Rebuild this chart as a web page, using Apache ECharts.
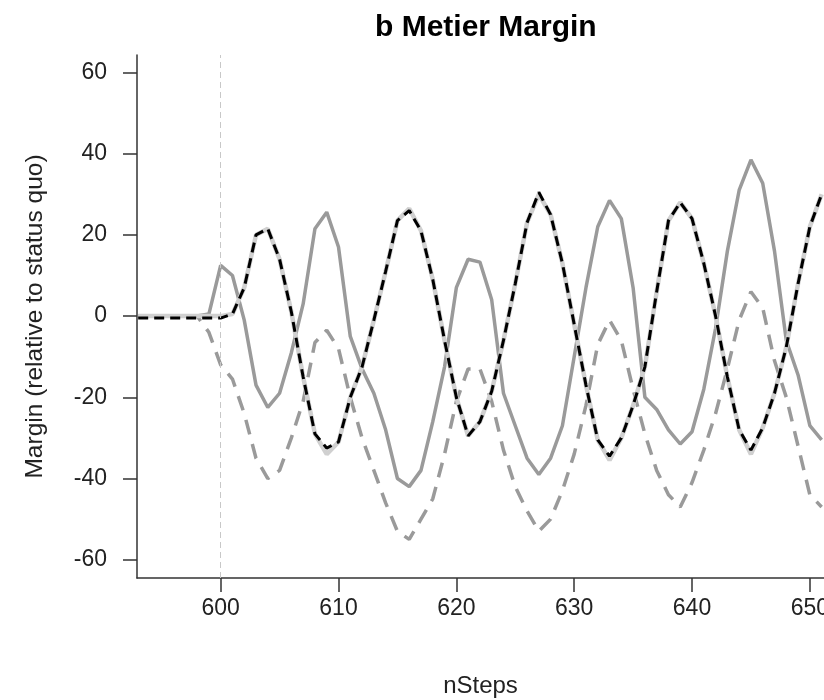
<!DOCTYPE html>
<html>
<head>
<meta charset="utf-8">
<script src="https://cdn.jsdelivr.net/npm/echarts@6/dist/echarts.min.js"></script>
<style>
  html, body { margin: 0; padding: 0; background: #fff; }
  #metier_chart { width: 824px; height: 700px; }
</style>
</head>
<body>
<div id="metier_chart"></div>
<script>
// time steps on the x axis
var steps = [593, 594, 595, 596, 597, 598, 599, 600, 601, 602, 603, 604, 605, 606, 607, 608, 609, 610,
  611, 612, 613, 614, 615, 616, 617, 618, 619, 620, 621, 622, 623, 624, 625, 626, 627, 628, 629, 630,
  631, 632, 633, 634, 635, 636, 637, 638, 639, 640, 641, 642, 643, 644, 645, 646, 647, 648, 649, 650, 651];

// solid dark grey
var solidGrey = [0, 0, 0, 0, 0, 0, 0.5, 12.5, 10, -1, -17, -22.5, -19, -9, 3, 21.5, 25.6, 17,
  -5, -13, -19, -28, -40, -42, -38, -26, -12.5, 7, 14, 13.3, 4, -19, -27, -35, -39, -35, -27, -10,
  7, 22, 28.5, 24, 7, -20, -23, -28, -31.5, -28.5, -18, -3, 16, 31, 38.5, 32.7, 16, -6, -14.5, -27, -30.5];

// dashed grey
var dashedGrey = [0, 0, 0, 0, 0, 0, -4, -12, -15.5, -24, -35, -40, -38, -30, -21, -6.5, -3.5, -8,
  -20, -30, -38, -46, -53, -55, -50, -45, -34, -21, -13, -13, -21, -33, -42, -48, -53, -50, -43, -34,
  -22, -7, -1, -6, -18, -29, -38, -44, -47, -41, -33, -24, -13, -1, 6, 2, -11, -20, -32, -44, -47];

// light grey (under the black dashes)
var lightGrey = [0, 0, 0, 0, 0, 0, 0, 0, 0.5, 7, 20, 21.5, 14, 1, -15, -29, -34, -31,
  -20, -12.5, -1, 11, 23.5, 26.5, 21, 9, -6, -20, -29.5, -26, -18.5, -6, 8, 23, 30, 25, 13, -2,
  -17, -30.5, -35.5, -30, -22, -12.5, 6, 23.5, 28, 24, 13, 0, -15, -28, -34, -27.5, -19, -7.6, 8, 22, 30];

// black dashed
var blackDashed = [-0.5, -0.5, -0.5, -0.5, -0.5, -0.5, -0.5, -0.5, 0.5, 7, 20, 21.5, 14, 1, -15, -29, -32.5, -31,
  -20, -12.5, -1, 11, 23.5, 26, 21, 9, -6, -20, -29.5, -26, -18.5, -6, 8, 23, 30.5, 25, 13, -2,
  -17, -30.5, -34.5, -30, -22, -12.5, 6, 23.5, 28, 24, 13, 0, -15, -28, -33, -27.5, -19, -7.6, 8, 22, 30];

var xTicks = [600, 610, 620, 630, 640, 650];
var yTicks = [-60, -40, -20, 0, 20, 40, 60];
var startStep = 600;

function pairs(vals) {
  return steps.map(function (s, i) { return [s, vals[i]]; });
}

var fontFam = '"Liberation Sans", Arial, sans-serif';

var options = {
  animation: false,
  title: {
    text: 'b Metier Margin',
    left: 370,
    top: 8,
    textStyle: { fontFamily: fontFam, fontSize: 30, fontWeight: 'bold', color: '#000' }
  },
  // the reference is cut off on the right, so labels may run past the edge
  grid: { left: 137, right: 0, top: 55, bottom: 122, outerBoundsMode: 'none', containLabel: false },
  xAxis: {
    type: 'value',
    min: 592.9,
    max: 651.2,
    name: 'nSteps',
    nameLocation: 'middle',
    nameGap: 96,
    nameTextStyle: { fontFamily: fontFam, fontSize: 24, color: '#222' },
    axisLine: { show: true, onZero: false, lineStyle: { color: '#333', width: 1.5 } },
    axisTick: { show: true, length: 14, customValues: xTicks, lineStyle: { color: '#333', width: 1.5 } },
    axisLabel: { customValues: xTicks, fontFamily: fontFam, fontSize: 23, color: '#222', margin: 19 },
    splitLine: { show: false }
  },
  yAxis: {
    type: 'value',
    min: -64.5,
    max: 64.3,
    name: 'Margin (relative to status quo)',
    nameLocation: 'middle',
    nameGap: 89,
    nameTextStyle: { fontFamily: fontFam, fontSize: 24.5, color: '#222' },
    axisLine: { show: true, onZero: false, lineStyle: { color: '#333', width: 1.5 } },
    axisTick: { show: true, length: 14, customValues: yTicks, lineStyle: { color: '#333', width: 1.5 } },
    axisLabel: { customValues: yTicks, fontFamily: fontFam, fontSize: 23, color: '#222', margin: 30 },
    splitLine: { show: false }
  },
  series: [
    {
      name: 'solid grey',
      type: 'line',
      data: pairs(solidGrey),
      showSymbol: false,
      lineStyle: { color: '#9a9a9a', width: 3.5 },
      markLine: {
        silent: true,
        symbol: 'none',
        label: { show: false },
        lineStyle: { color: '#c8c8c8', width: 1, type: [6, 4] },
        data: [{ xAxis: startStep }]
      }
    },
    {
      name: 'dashed grey',
      type: 'line',
      data: pairs(dashedGrey),
      showSymbol: false,
      lineStyle: { color: '#9a9a9a', width: 3.5, type: [15, 10] }
    },
    {
      name: 'light grey',
      type: 'line',
      data: pairs(lightGrey),
      showSymbol: false,
      lineStyle: { color: '#d0d0d0', width: 4.5 }
    },
    {
      name: 'black dashed',
      type: 'line',
      data: pairs(blackDashed),
      showSymbol: false,
      lineStyle: { color: '#000', width: 3, type: [10, 6] }
    }
  ]
};

var metierChart = echarts.init(document.getElementById('metier_chart'));
metierChart.setOption(options);
</script>
</body>
</html>
